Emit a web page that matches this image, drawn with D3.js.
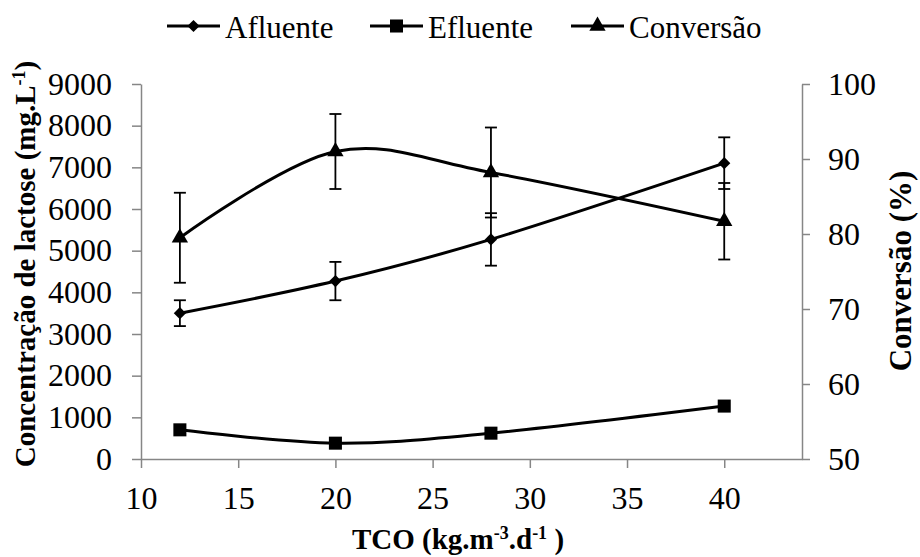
<!DOCTYPE html>
<html>
<head>
<meta charset="utf-8">
<script src="https://cdn.jsdelivr.net/npm/d3@7"></script>
<style>
  body { margin: 0; background: #fff; }
  svg { display: block; }
  svg text { font-family: "Liberation Serif", Tinos, "Times New Roman", Times, serif; }
</style>
</head>
<body>
<svg id="chart" width="920" height="557"></svg>
<script>
// TCO loads (kg.m-3.d-1)
const tco = [12, 20, 28, 40];
// Lactose concentration (mg/L), inlet and outlet
const afluente = [3500, 4270, 5270, 7100];
const afluenteErr = [310, 460, 630, 620];
const efluente = [700, 380, 620, 1270];
// Lactose conversion (%)
const conversao = [79.5, 91.0, 88.2, 81.7];
const conversaoErr = [6.0, 5.0, 6.0, 5.1];
// Axis ticks
const xTicks = [10, 15, 20, 25, 30, 35, 40];
const yLeftTicks = [0, 1000, 2000, 3000, 4000, 5000, 6000, 7000, 8000, 9000];
const yRightTicks = [50, 60, 70, 80, 90, 100];

const svg = d3.select("#chart");
const plotLeft = 141, plotRight = 802, plotTop = 84, plotBottom = 459;
const axisColor = "#868686";
const fs = 32;
const titleFs = 29;

const x = d3.scaleLinear().domain([10, 44]).range([plotLeft, plotRight]);
const yL = d3.scaleLinear().domain([0, 9000]).range([plotBottom, plotTop]);
const yR = d3.scaleLinear().domain([50, 100]).range([plotBottom, plotTop]);

function styleAxis(g) {
  g.attr("font-size", fs).attr("font-family", null);
  g.select(".domain").attr("stroke", axisColor).attr("stroke-width", 1.5);
  g.selectAll(".tick line").attr("stroke", axisColor).attr("stroke-width", 1.5);
  g.selectAll(".tick text").attr("fill", "#000");
}
const fmt = d3.format("d");

// X axis
const gx = svg.append("g").attr("transform", `translate(0,${plotBottom})`)
  .call(d3.axisBottom(x).tickValues(xTicks).tickFormat(fmt).tickSize(9).tickSizeOuter(0).tickPadding(18));
styleAxis(gx);

// Left axis
const gl = svg.append("g").attr("transform", `translate(${plotLeft},0)`)
  .call(d3.axisLeft(yL).tickValues(yLeftTicks).tickFormat(fmt).tickSize(9).tickSizeOuter(0).tickPadding(20));
styleAxis(gl);

// Right axis
const gr = svg.append("g").attr("transform", `translate(${plotRight},0)`)
  .call(d3.axisRight(yR).tickValues(yRightTicks).tickFormat(fmt).tickSize(8).tickSizeOuter(0).tickPadding(18));
styleAxis(gr);

// Smoothed series lines
const curve = d3.curveCardinal.tension(0);
function drawLine(vals, ys) {
  const line = d3.line().x((d, i) => x(tco[i])).y(d => ys(d)).curve(curve);
  svg.append("path").datum(vals).attr("d", line)
    .attr("fill", "none").attr("stroke", "#000").attr("stroke-width", 3);
}
drawLine(afluente, yL);
drawLine(efluente, yL);
drawLine(conversao, yR);

// Error bars
function drawErr(vals, errs, ys) {
  const g = svg.append("g").attr("stroke", "#000").attr("stroke-width", 1.8);
  vals.forEach((v, i) => {
    const cx = x(tco[i]);
    const y1 = ys(v + errs[i]), y2 = ys(v - errs[i]);
    g.append("line").attr("x1", cx).attr("x2", cx).attr("y1", y1).attr("y2", y2);
    g.append("line").attr("x1", cx - 6).attr("x2", cx + 6).attr("y1", y1).attr("y2", y1);
    g.append("line").attr("x1", cx - 6).attr("x2", cx + 6).attr("y1", y2).attr("y2", y2);
  });
}
drawErr(afluente, afluenteErr, yL);
drawErr(conversao, conversaoErr, yR);

// Markers
const diamond = d3.symbol().type(d3.symbolDiamond2).size(95);
const square = d3.symbol().type(d3.symbolSquare).size(170);
const triangle = d3.symbol().type(d3.symbolTriangle).size(115);
function drawMarkers(vals, ys, sym) {
  svg.append("g").selectAll("path").data(vals).join("path")
    .attr("d", sym)
    .attr("transform", (d, i) => `translate(${x(tco[i])},${ys(d)})`)
    .attr("fill", "#000");
}
drawMarkers(afluente, yL, diamond);
drawMarkers(efluente, yL, square);
drawMarkers(conversao, yR, triangle);

// Legend
const legend = [
  { name: "Afluente", sym: diamond, x0: 167 },
  { name: "Efluente", sym: square, x0: 370 },
  { name: "Conversão", sym: triangle, x0: 571 }
];
const ly = 26;
legend.forEach(l => {
  const g = svg.append("g");
  g.append("line").attr("x1", l.x0).attr("x2", l.x0 + 53).attr("y1", ly).attr("y2", ly)
    .attr("stroke", "#000").attr("stroke-width", 3);
  g.append("path").attr("d", l.sym).attr("transform", `translate(${l.x0 + 26.5},${ly})`).attr("fill", "#000");
  g.append("text").attr("x", l.x0 + 58).attr("y", ly + 12).attr("font-size", 31).text(l.name);
});

// Axis titles
const xt = svg.append("text").attr("x", 458).attr("y", 549).attr("text-anchor", "middle")
  .attr("font-size", titleFs).attr("font-weight", "bold");
xt.append("tspan").text("TCO (kg.m");
xt.append("tspan").attr("dy", -10).attr("font-size", 18).text("-3");
xt.append("tspan").attr("dy", 10).text(".d");
xt.append("tspan").attr("dy", -10).attr("font-size", 18).text("-1");
xt.append("tspan").attr("dy", 10).text(" )");

const lt = svg.append("text").attr("transform", "translate(35,264) rotate(-90)")
  .attr("text-anchor", "middle").attr("font-size", titleFs).attr("font-weight", "bold");
lt.append("tspan").text("Concentração de lactose (mg.L");
lt.append("tspan").attr("dy", -10).attr("font-size", 18).text("-1");
lt.append("tspan").attr("dy", 10).text(")");

svg.append("text").attr("transform", "translate(911,271) rotate(-90)")
  .attr("text-anchor", "middle").attr("font-size", 31).attr("font-weight", "bold")
  .text("Conversão (%)");
</script>
</body>
</html>
